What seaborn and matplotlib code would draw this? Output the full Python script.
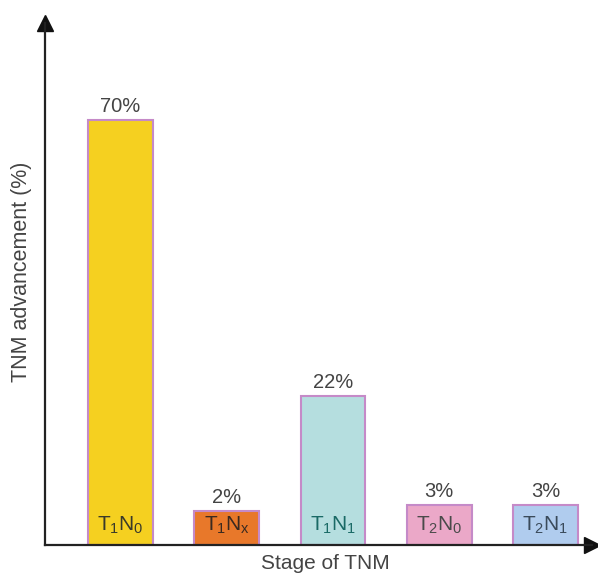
import matplotlib
matplotlib.use("Agg")
import matplotlib.pyplot as plt
import seaborn as sns
import pandas as pd

# Data
stages = [r"T$_1$N$_0$", r"T$_1$N$_\mathrm{x}$", r"T$_1$N$_1$", r"T$_2$N$_0$", r"T$_2$N$_1$"]
shares = [70, 2, 22, 3, 3]
bar_colors = ["#F5D020", "#E8782A", "#B5DEDF", "#EBA8C8", "#B0CCEE"]
stage_text_colors = ["#3a3a2a", "#3a2a20", "#1a6a66", "#4a4a4a", "#3a4a5a"]

# Axis floor sits a little below zero so short bars keep room for their tags
Y_MIN, Y_MAX = -3.9, 86.9

sns.set_theme(style="white")
plt.rcParams["font.family"] = ["Liberation Sans", "DejaVu Sans"]
plt.rcParams["mathtext.fontset"] = "custom"
plt.rcParams["mathtext.rm"] = "Liberation Sans"
plt.rcParams["mathtext.it"] = "Liberation Sans"

fig = plt.figure(figsize=(5.98, 5.73), dpi=100)
ax = fig.add_axes([0.0753, 0.0489, 0.9147, 0.911])

df = pd.DataFrame({"stage": stages, "share": shares})
df["height"] = df["share"] - Y_MIN

sns.barplot(
    data=df, x="stage", y="height", hue="stage", palette=bar_colors,
    saturation=1, legend=False, width=0.61, bottom=Y_MIN,
    edgecolor="#C58AC8", linewidth=1.5, ax=ax,
)

ax.set_xlim(-0.71, 4.438)
ax.set_ylim(Y_MIN, Y_MAX)

# Value labels above bars and stage tags inside bars
for i, (v, name, tc) in enumerate(zip(shares, stages, stage_text_colors)):
    ax.annotate(f"{v}%", xy=(i, v), xytext=(0, 3), textcoords="offset points",
                ha="center", va="bottom", fontsize=14.5, color="#444444")
    ax.annotate(name, xy=(i, Y_MIN), xytext=(0, 14), textcoords="offset points",
                ha="center", va="center", fontsize=15, color=tc)

# Axes styling: only left and bottom lines with arrow heads
for s in ["top", "right"]:
    ax.spines[s].set_visible(False)
for s in ["left", "bottom"]:
    ax.spines[s].set_color("#222222")
    ax.spines[s].set_linewidth(1.6)
ax.set_xticks([])
ax.set_yticks([])
ax.plot(0, 1, marker="^", color="#111111", markersize=12,
        transform=ax.transAxes, clip_on=False)
ax.plot(1, 0, marker=">", color="#111111", markersize=12,
        transform=ax.transAxes, clip_on=False)

ax.set_xlabel("Stage of TNM", fontsize=15, color="#444444")
ax.set_ylabel("TNM advancement (%)", fontsize=15.5, color="#444444")
ax.xaxis.set_label_coords(0.512, -0.017)
ax.yaxis.set_label_coords(-0.023, 0.523)

fig.savefig("out.png", dpi=100)
